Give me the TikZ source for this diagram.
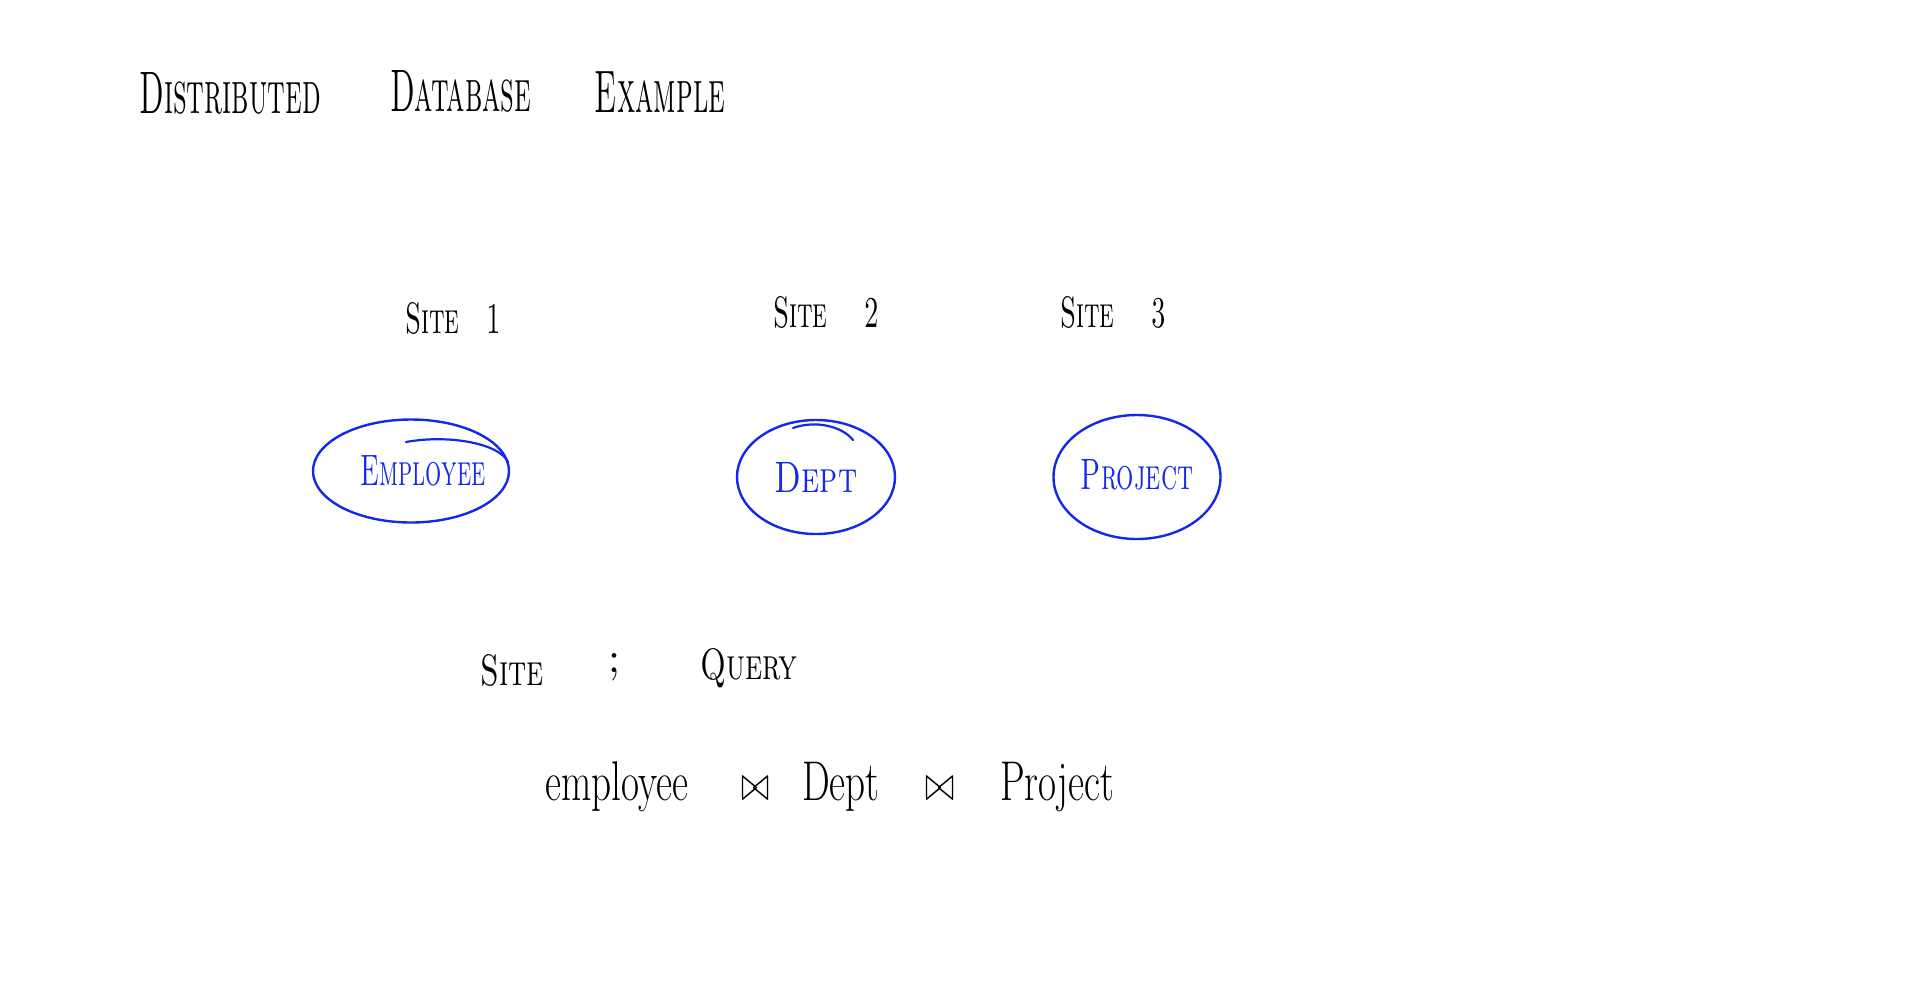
\documentclass[tikz,border=0pt]{standalone}
\usepackage{tikz}
\usetikzlibrary{shapes.geometric}
\definecolor{penblue}{RGB}{20,40,235}
\newcommand{\hw}[2][0.6]{\scalebox{#1}[1]{#2}}
\tikzset{
  hand/.style     = {inner sep=0pt, font=\fontsize{22}{26}\selectfont\scshape},
  title/.style    = {hand, font=\fontsize{30}{36}\selectfont\scshape},
  relation/.style = {ellipse, draw=penblue, line width=1.2pt, text=penblue, hand,
                     inner sep=0pt},
  stroke/.style   = {draw=penblue, line width=1.1pt, line cap=round},
  query/.style    = {inner sep=0pt, font=\fontsize{28}{32}\selectfont}
}

\begin{document}
\begin{tikzpicture}[x=0.5pt, y=-0.5pt]
  \useasboundingbox (0,0) rectangle (1920,997);
  % heading
  \node [title] (dist) at (230,93) {\hw[0.5]{Distributed}};
  \node [title] (db)   at (461,91) {\hw[0.5]{Database}};
  \node [title] (ex)   at (660,92) {\hw[0.5]{Example}};
  % the three sites
  \node [hand] (site1) at (453,318) {\hw{Site\quad 1}};
  \node [hand] (site2) at (826,312) {\hw{Site\hspace{1.4em}2}};
  \node [hand] (site3) at (1113,312) {\hw{Site\hspace{1.4em}3}};
  \node [relation, inner xsep=-10pt, minimum width=98pt, minimum height=51.5pt] (emp) at (411,471)
        {\hspace{12pt}\hw[0.58]{Employee}};
  \node [relation, minimum width=79pt, minimum height=57pt]   (dept) at (816,477)
        {\hw[0.74]{Dept}};
  \node [relation, inner xsep=-6pt, minimum width=83.5pt, minimum height=62pt] (proj) at (1137,477)
        {\raisebox{3pt}{\hw[0.62]{Project}}\hspace{9pt}};
  % pen strokes that overlap
  \draw [stroke] (406,442) .. controls (450,434) and (500,444) .. (508,462);
  \draw [stroke] (793,428) .. controls (815,420) and (842,426) .. (853,440);
  % where the query is asked
  \node [hand] (qsite) at (512,670) {\hw[0.7]{Site}};
  \node [hand] (semi)  at (615,667) {;};
  \node [hand] (query) at (749,668) {\hw[0.7]{Query}};
  \node [query, anchor=base] (join) at (830,800)
        {\hw[0.7]{employee\hspace{38pt}$\bowtie$\hspace{23pt}Dept\hspace{33pt}$\bowtie$\hspace{33pt}Project}};
\end{tikzpicture}
\end{document}
